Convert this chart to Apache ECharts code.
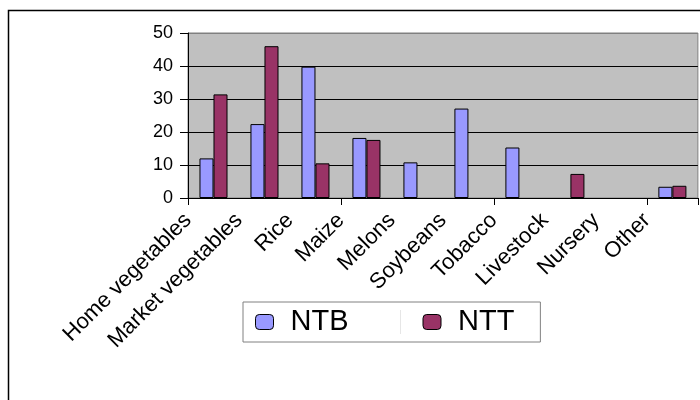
<!DOCTYPE html>
<html>
<head>
<meta charset="utf-8">
<script src="https://cdn.jsdelivr.net/npm/echarts@6/dist/echarts.min.js"></script>
<style>html,body{margin:0;padding:0;background:#fff;}#c{width:700px;height:400px;}</style>
</head>
<body>
<div id="c"></div>
<script>
var categories = ['Home vegetables','Market vegetables','Rice','Maize','Melons','Soybeans','Tobacco','Livestock','Nursery','Other'];
var ntb = [12.0, 22.4, 39.8, 18.2, 10.8, 27.1, 15.3, null, null, 3.4];
var ntt = [31.4, 46.0, 10.5, 17.6, null, null, null, 7.3, null, 3.7];
var yTicks = [0, 10, 20, 30, 40, 50];

var chart = echarts.init(document.getElementById('c'), null, {renderer:'canvas'});
var FONT = '"Liberation Sans", Arial, sans-serif';
chart.setOption({
  animation: false,
  backgroundColor: '#fff',
  textStyle: {fontFamily: FONT},
  graphic: [{
    type: 'rect', silent: true, z: 100,
    shape: {x: 8.5, y: 10.5, width: 800, height: 600},
    style: {fill: 'none', stroke: '#000', lineWidth: 1.5}
  }, {
    type: 'line', silent: true, z: 100,
    shape: {x1: 400.5, y1: 310, x2: 400.5, y2: 334},
    style: {stroke: '#e6e6e6', lineWidth: 1}
  }],
  grid: {
    left: 188, top: 33, right: 1, bottom: 202,
    show: true, backgroundColor: '#C0C0C0', borderColor: '#808080', borderWidth: 1
  },
  legend: {
    data: ['NTB', 'NTT'],
    left: 243, top: 302,
    orient: 'horizontal',
    padding: [5, 26, 5, 12],
    itemWidth: 18, itemHeight: 15, itemGap: 74,
    borderColor: '#808080', borderWidth: 1, backgroundColor: '#fff',
    textStyle: {fontSize: 29, color: '#000', fontFamily: FONT, padding: [0, 0, 0, 12], lineHeight: 30},
    itemStyle: {borderColor: '#000', borderWidth: 1}
  },
  xAxis: [{
    type: 'category',
    data: categories,
    position: 'bottom',
    axisLine: {show: true, lineStyle: {color: '#000', width: 1}},
    axisTick: {show: true, length: 7, lineStyle: {color: '#000'}},
    axisLabel: {show: false},
    splitLine: {show: false}
  }, {
    type: 'category',
    data: categories.concat(['']),
    position: 'bottom',
    boundaryGap: false,
    axisLine: {show: false},
    axisTick: {show: false},
    axisLabel: {interval: 0, rotate: 45, margin: 19, fontSize: 22, color: '#000', fontFamily: FONT},
    splitLine: {show: false}
  }],
  yAxis: {
    type: 'value', min: 0, max: 50, interval: 10,
    axisLine: {show: true, lineStyle: {color: '#000', width: 1}},
    axisTick: {show: true, length: 8, lineStyle: {color: '#000'}},
    axisLabel: {
      margin: 15, fontSize: 18, color: '#000', fontFamily: FONT,
      formatter: function (v) { return yTicks.indexOf(v) >= 0 ? String(v) : ''; }
    },
    splitLine: {show: true, lineStyle: {color: ['#000', '#000', '#000', '#000', '#000', '#808080'], width: 1}}
  },
  series: [
    {name: 'NTB', type: 'bar', xAxisIndex: 0, data: ntb, barGap: '0%', barCategoryGap: '45%',
     itemStyle: {color: '#9999FF', borderColor: '#000', borderWidth: 1}},
    {name: 'NTT', type: 'bar', xAxisIndex: 0, data: ntt, barGap: '0%', barCategoryGap: '45%',
     itemStyle: {color: '#993366', borderColor: '#000', borderWidth: 1}}
  ]
});
</script>
</body>
</html>
